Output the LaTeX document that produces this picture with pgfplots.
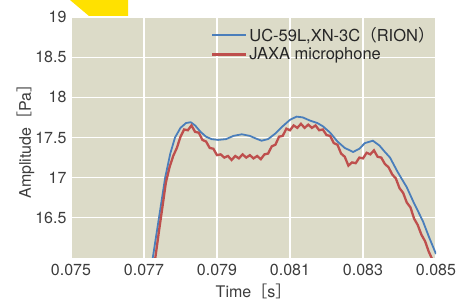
\documentclass[border=0pt]{standalone}
\usepackage{fontspec}
\setmainfont{TeX Gyre Heros}
\newfontfamily\cjk{Noto Sans CJK JP}
\usepackage{pgfplots}
\pgfplotsset{compat=1.18}
\definecolor{bgcol}{HTML}{DCDBC8}
\definecolor{blueline}{HTML}{4A7EBB}
\definecolor{redline}{HTML}{BE4F4D}
\definecolor{ticktext}{HTML}{3C3C3C}
\definecolor{yel}{HTML}{FFE100}
\begin{document}
\begin{tikzpicture}
\fill[yel] (-1pt,258pt) -- (57pt,258pt) -- (57pt,242pt) -- (18pt,242pt) -- cycle;
\begin{axis}[
  scale only axis,
  width=365pt, height=241pt,
  xmin=0.075, xmax=0.085, ymin=16, ymax=19,
  scaled x ticks=false,
  xtick={0.075,0.077,0.079,0.081,0.083,0.085},
  xticklabels={0.075,0.077,0.079,0.081,0.083,0.085},
  ytick={16.5,17,17.5,18,18.5,19},
  yticklabels={16.5,17,17.5,18,18.5,19},
  grid=major,
  major grid style={white, line width=1.3pt},
  axis background/.style={fill=bgcol},
  axis line style={draw=none},
  tick style={draw=none},
  tick label style={font=\fontsize{16}{18}\selectfont, text=ticktext},
  xticklabel style={yshift=-3pt},
  yticklabel style={xshift=-1pt},
  xlabel={Time{\cjk ［}s{\cjk ］}},
  ylabel={Amplitude{\cjk ［}Pa{\cjk ］}},
  ylabel shift=-6pt,
  xlabel shift=1pt,
  label style={font=\fontsize{16}{18}\selectfont, text=ticktext},
  legend style={at={(0.375,0.975)}, anchor=north west, draw=none, fill=none,
    font=\fontsize{16.5}{19}\selectfont, text=black!85, row sep=1pt},
  legend cell align=left,
  legend image code/.code={\draw[#1] (0pt,0pt) -- (34pt,0pt);},
]
\addplot[blueline, line width=1.8pt] coordinates {
(0.07720,15.93) (0.07724,16.0) (0.07741,16.5) (0.07758,17.0) (0.07772,17.3)
(0.07785,17.5) (0.07800,17.62) (0.07815,17.68) (0.07828,17.69) (0.07840,17.65)
(0.07855,17.57) (0.07870,17.51) (0.07885,17.48) (0.07903,17.47) (0.07925,17.48)
(0.07945,17.52) (0.07968,17.54) (0.07990,17.52) (0.08005,17.49) (0.08022,17.46)
(0.08040,17.48) (0.08060,17.55) (0.08080,17.64) (0.08100,17.72) (0.08118,17.76)
(0.08135,17.75) (0.08155,17.71) (0.08175,17.68) (0.08190,17.64) (0.08210,17.56)
(0.08230,17.45) (0.08250,17.37) (0.08273,17.32) (0.08290,17.36) (0.08305,17.43)
(0.08327,17.46) (0.08345,17.40) (0.08360,17.32) (0.08374,17.25) (0.08395,17.07)
(0.08420,16.88) (0.08440,16.68) (0.08464,16.46) (0.08480,16.27) (0.08500,16.05)
};
\addlegendentry{UC-59L,XN-3C{\cjk （}RION{\cjk ）}}
\addplot[redline, line width=2.3pt] coordinates {
(0.07730,15.97) (0.07740,16.30) (0.07750,16.62) (0.07760,16.94) (0.07770,17.13)
(0.07780,17.27) (0.07790,17.37) (0.07800,17.51) (0.07810,17.60) (0.07820,17.59)
(0.07830,17.65) (0.07840,17.57) (0.07850,17.56) (0.07860,17.47) (0.07870,17.45)
(0.07880,17.37) (0.07890,17.36) (0.07900,17.28) (0.07910,17.29) (0.07920,17.25)
(0.07930,17.27) (0.07940,17.22) (0.07950,17.27) (0.07960,17.24) (0.07970,17.29)
(0.07980,17.25) (0.07990,17.28) (0.08000,17.24) (0.08010,17.27) (0.08020,17.23)
(0.08030,17.29) (0.08040,17.30) (0.08050,17.39) (0.08060,17.41) (0.08070,17.51)
(0.08080,17.52) (0.08090,17.61) (0.08100,17.59) (0.08110,17.65) (0.08120,17.62)
(0.08130,17.67) (0.08140,17.62) (0.08150,17.66) (0.08160,17.62) (0.08170,17.65)
(0.08180,17.59) (0.08190,17.60) (0.08200,17.53) (0.08210,17.52) (0.08220,17.43)
(0.08230,17.41) (0.08240,17.30) (0.08250,17.26) (0.08260,17.15) (0.08270,17.19)
(0.08280,17.18) (0.08290,17.25) (0.08300,17.24) (0.08310,17.31) (0.08320,17.29)
(0.08330,17.34) (0.08340,17.26) (0.08350,17.25) (0.08360,17.17) (0.08370,17.13)
(0.08380,17.04) (0.08390,16.99) (0.08400,16.87) (0.08410,16.81) (0.08420,16.69)
(0.08430,16.63) (0.08440,16.49) (0.08450,16.41) (0.08460,16.29) (0.08470,16.21)
(0.08480,16.08) (0.08490,15.98)
};
\addlegendentry{JAXA microphone}
\end{axis}
\pgfresetboundingbox
\path[use as bounding box] (-71pt,-46pt) rectangle (399pt,258pt);
\end{tikzpicture}
\end{document}
